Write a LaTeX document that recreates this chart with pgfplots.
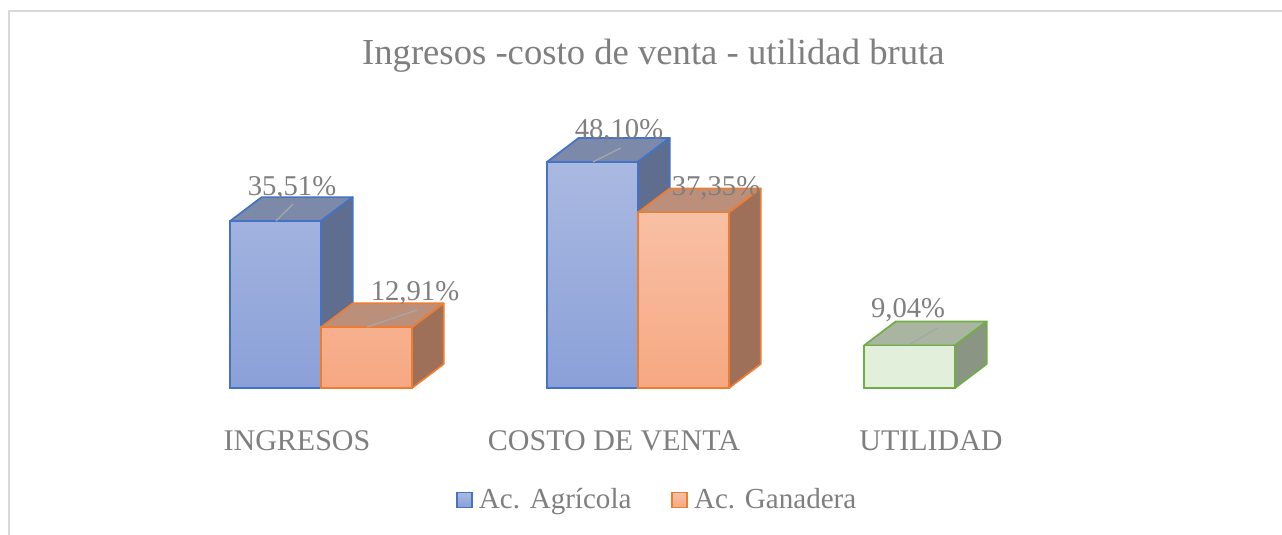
\documentclass[border=0pt]{standalone}
\usepackage{pgfplots}
\pgfplotsset{compat=1.18}
\usepackage{fontspec}
\setmainfont{Liberation Serif}
\definecolor{txt}{HTML}{7F7F7F}
\definecolor{frame}{HTML}{D9D9D9}
\definecolor{bEdge}{HTML}{4472C4}
\definecolor{bTopC}{HTML}{AAB9E1}
\definecolor{bBotC}{HTML}{8AA0D8}
\definecolor{bLid}{HTML}{7C89A8}
\definecolor{bSide}{HTML}{5F6E8F}
\definecolor{oEdge}{HTML}{ED7D31}
\definecolor{oTopC}{HTML}{F8C0A5}
\definecolor{oBotC}{HTML}{F6A882}
\definecolor{oLid}{HTML}{BC8F7A}
\definecolor{oSide}{HTML}{9E705A}
\definecolor{gEdge}{HTML}{70AD47}
\definecolor{gFront}{HTML}{E2EFDA}
\definecolor{gLid}{HTML}{AAB5A1}
\definecolor{gSide}{HTML}{8B9583}
\definecolor{lead}{HTML}{A6A6A6}
\begin{document}
\begin{tikzpicture}[x=1pt,y=1pt]
\path[use as bounding box] (0,0) rectangle (961.5,401.25);
\draw[frame, line width=1.5pt] (6.75,0) -- (6.75,393) -- (961.5,393);
\node[text=txt, font=\fontsize{27.5}{30}\selectfont, anchor=base, inner sep=0pt] at (490,352.5) {Ingresos -costo de venta - utilidad bruta};
\begin{axis}[
  at={(3pt,110.25pt)}, anchor=south west,
  scale only axis, width=951pt, height=193.875pt,
  xmin=-1, xmax=3, ymin=0, ymax=55,
  clip=false,
  axis line style={draw=none},
  ytick=\empty,
  xtick={-0.0757,0.9243,1.9243},
  xticklabels={INGRESOS,COSTO DE VENTA,UTILIDAD},
  major tick length=0pt,
  xticklabel style={anchor=base, yshift=-47.25pt, text=txt, font=\fontsize{22.5}{25}\selectfont},
  legend columns=2,
  legend style={at={(axis cs:1.062,-23.8)}, anchor=center, draw=none, fill=none,
    font=\fontsize{21.8}{25}\selectfont, text=txt,
    /tikz/every even column/.append style={column sep=28pt}},
  face/.style={line width=1.3pt, line join=round, mark=none, forget plot},
  sq/.style={legend image code/.code={\draw[##1, line width=1.2pt] (0pt,-5.6pt) rectangle (11.25pt,5.6pt);}},
]
% ---- Ac. Agricola (blue) lids and sides
\addplot[face, fill=bLid, draw=bEdge] coordinates {(-0.2871,35.51) (0,35.51) (0.1,40.61) (-0.1871,40.61)} -- cycle;
\addplot[face, fill=bSide, draw=bEdge] coordinates {(0,0) (0.1,5.1) (0.1,40.61) (0,35.51)} -- cycle;
\addplot[face, fill=bLid, draw=bEdge] coordinates {(0.7129,48.10) (1,48.10) (1.1,53.20) (0.8129,53.20)} -- cycle;
\addplot[face, fill=bSide, draw=bEdge] coordinates {(1,0) (1.1,5.1) (1.1,53.20) (1,48.10)} -- cycle;
% blue fronts
\addplot[ybar, bar width=0.2871, bar shift=-0.14355, top color=bTopC, bottom color=bBotC, draw=bEdge, line width=1.3pt, sq]
  coordinates {(0,35.51) (1,48.10)};
\addlegendentry{\hspace{2.5pt}Ac. Agrícola}
% ---- Ac. Ganadera (orange) lids and sides
\addplot[face, fill=oLid, draw=oEdge] coordinates {(0,12.91) (0.2871,12.91) (0.3871,18.01) (0.1,18.01)} -- cycle;
\addplot[face, fill=oSide, draw=oEdge] coordinates {(0.2871,0) (0.3871,5.1) (0.3871,18.01) (0.2871,12.91)} -- cycle;
\addplot[face, fill=oLid, draw=oEdge] coordinates {(1,37.35) (1.2871,37.35) (1.3871,42.45) (1.1,42.45)} -- cycle;
\addplot[face, fill=oSide, draw=oEdge] coordinates {(1.2871,0) (1.3871,5.1) (1.3871,42.45) (1.2871,37.35)} -- cycle;
\addplot[ybar, bar width=0.2871, bar shift=0.14355, top color=oTopC, bottom color=oBotC, draw=oEdge, line width=1.3pt, sq]
  coordinates {(0,12.91) (1,37.35)};
\addlegendentry{\hspace{2.5pt}Ac. Ganadera}
% ---- UTILIDAD (green)
\addplot[face, fill=gLid, draw=gEdge] coordinates {(1.7129,9.04) (2,9.04) (2.1,14.14) (1.8129,14.14)} -- cycle;
\addplot[face, fill=gSide, draw=gEdge] coordinates {(2,0) (2.1,5.1) (2.1,14.14) (2,9.04)} -- cycle;
\addplot[ybar, bar width=0.2871, bar shift=-0.14355, fill=gFront, draw=gEdge, line width=1.3pt, forget plot]
  coordinates {(2,9.04)};
% ---- leader lines
\addplot[lead, line width=1pt, mark=none, forget plot] coordinates {(-0.142,35.53) (-0.088,39.15)};
\addplot[lead, line width=1pt, mark=none, forget plot] coordinates {(0.145,12.98) (0.303,16.6)};
\addplot[lead, line width=1pt, mark=none, forget plot] coordinates {(0.858,48.09) (0.946,51.06)};
\addplot[lead, line width=1pt, mark=none, forget plot] coordinates {(1.858,9.36) (1.946,12.77)};
% ---- data labels
\begin{scope}[every node/.style={anchor=base, text=txt, inner sep=0pt, font=\fontsize{21.5}{24}\selectfont}]
\node at (axis cs:-0.0915,41.06) {35,51\%};
\node at (axis cs:0.2965,18.72) {12,91\%};
\node at (axis cs:0.940,53.19) {48,10\%};
\node at (axis cs:1.246,41.06) {37,35\%};
\node at (axis cs:1.852,15.1) {9,04\%};
\end{scope}
\end{axis}
\end{tikzpicture}
\end{document}
